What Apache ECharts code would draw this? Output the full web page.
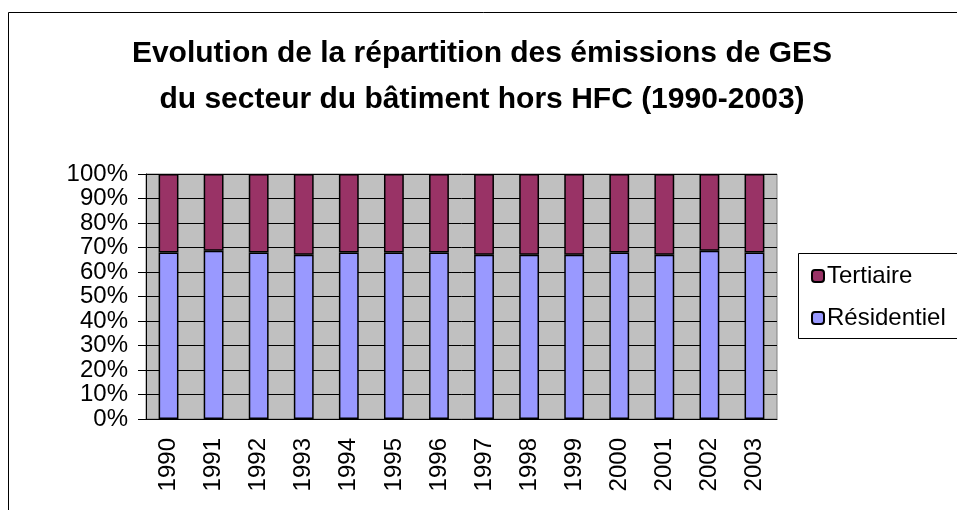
<!DOCTYPE html>
<html>
<head>
<meta charset="utf-8">
<script src="https://cdn.jsdelivr.net/npm/echarts@6/dist/echarts.min.js"></script>
<style>html,body{margin:0;padding:0;background:#fff;}#c{width:957px;height:510px;}</style>
</head>
<body>
<div id="c"></div>
<script>
var years = ['1990','1991','1992','1993','1994','1995','1996','1997','1998','1999','2000','2001','2002','2003'];
var residentiel = [68, 68.7, 68, 67, 68, 68, 68, 67, 67, 67, 68, 67, 68.7, 68];
var tertiaire = [32, 31.3, 32, 33, 32, 32, 32, 33, 33, 33, 32, 33, 31.3, 32];
var yTicks = [0, 10, 20, 30, 40, 50, 60, 70, 80, 90, 100];

var chart = echarts.init(document.getElementById('c'), null, {renderer: 'canvas'});
var font = 'Liberation Sans, Arial, sans-serif';
chart.setOption({
  animation: false,
  backgroundColor: '#fff',
  title: {
    text: 'Evolution de la répartition des émissions de GES\ndu secteur du bâtiment hors HFC (1990-2003)',
    left: 477, top: 26, textAlign: 'center',
    textStyle: {fontFamily: font, fontSize: 30, fontWeight: 'bold', color: '#000', lineHeight: 46}
  },
  graphic: [
    {type: 'rect', shape: {x: 8.5, y: 12.5, width: 1000, height: 600}, style: {fill: 'none', stroke: '#000', lineWidth: 1}, silent: true},
    {type: 'rect', shape: {x: 798.5, y: 253.5, width: 200, height: 85}, style: {fill: '#fff', stroke: '#000', lineWidth: 1}, silent: true, z: 0}
  ],
  legend: {
    orient: 'vertical', left: 806, top: 259, itemWidth: 12, itemHeight: 12, itemGap: 18,
    data: ['Tertiaire', 'Résidentiel'],
    textStyle: {fontFamily: font, fontSize: 24, color: '#000', padding: [0, 0, 0, -2]},
    z: 5
  },
  grid: {left: 146, top: 174, width: 631, height: 245, show: true, backgroundColor: '#c0c0c0', borderColor: '#808080', borderWidth: 1},
  xAxis: {
    type: 'category', data: years,
    axisLine: {lineStyle: {color: '#000', width: 1}},
    axisTick: {show: false},
    axisLabel: {rotate: 90, fontFamily: font, fontSize: 24, color: '#000', margin: 19}
  },
  yAxis: {
    type: 'value', min: 0, max: 100, interval: 10,
    axisLine: {show: true, lineStyle: {color: '#000'}},
    axisTick: {show: true, length: 8, lineStyle: {color: '#000'}},
    splitLine: {lineStyle: {color: '#000', width: 1}},
    axisLabel: {formatter: function(v){ return yTicks.indexOf(v) >= 0 ? v + '%' : ''; }, fontFamily: font, fontSize: 24, color: '#000', margin: 18}
  },
  series: [
    {name: 'Résidentiel', type: 'bar', stack: 't', data: residentiel, barWidth: '44%',
     itemStyle: {color: '#9999ff', borderColor: '#000', borderWidth: 1.5}},
    {name: 'Tertiaire', type: 'bar', stack: 't', data: tertiaire, barWidth: '44%',
     itemStyle: {color: '#993366', borderColor: '#000', borderWidth: 1.5}}
  ]
});
</script>
</body>
</html>
